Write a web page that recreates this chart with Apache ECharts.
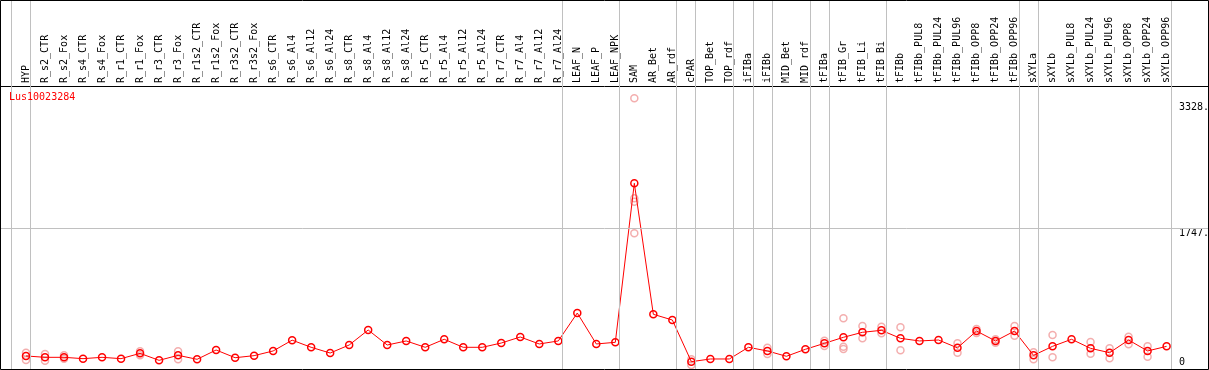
<!DOCTYPE html>
<html><head><meta charset="utf-8">
<script src="https://cdn.jsdelivr.net/npm/echarts@6/dist/echarts.min.js"></script>
<style>html,body{margin:0;padding:0;background:#fff}#c{width:1209px;height:370px}</style>
</head><body><div id="c"></div>
<script>
const chartTitle = 'Lus10023284';
const categories = ['HYP','R_s2_CTR','R_s2_Fox','R_s4_CTR','R_s4_Fox','R_r1_CTR','R_r1_Fox','R_r3_CTR','R_r3_Fox',
  'R_r1s2_CTR','R_r1s2_Fox','R_r3s2_CTR','R_r3s2_Fox','R_s6_CTR','R_s6_Al4','R_s6_Al12','R_s6_Al24',
  'R_s8_CTR','R_s8_Al4','R_s8_Al12','R_s8_Al24','R_r5_CTR','R_r5_Al4','R_r5_Al12','R_r5_Al24',
  'R_r7_CTR','R_r7_Al4','R_r7_Al12','R_r7_Al24','LEAF_N','LEAF_P','LEAF_NPK','SAM','AR_Bet','AR_rdf',
  'cPAR','TOP_Bet','TOP_rdf','iFIBa','iFIBb','MID_Bet','MID_rdf','tFIBa','tFIB_Gr','tFIB_Li','tFIB_Bi',
  'tFIBb','tFIBb_PUL8','tFIBb_PUL24','tFIBb_PUL96','tFIBb_OPP8','tFIBb_OPP24','tFIBb_OPP96',
  'sXYLa','sXYLb','sXYLb_PUL8','sXYLb_PUL24','sXYLb_PUL96','sXYLb_OPP8','sXYLb_OPP24','sXYLb_OPP96'];
const means = [139,122,122,105,122,105,172,84,147,97,214,117,143,202,338,248,176,
  277,466,277,328,248,349,248,248,302,378,290,328,680,290,311,2314,664,592,
  67,101,101,248,202,135,223,298,374,437,462,361,328,340,241,453,328,453,
  147,260,349,235,180,340,202,260];
// replicate points: [category index, value]
const replicates = [[0,180],[0,88],[1,164],[1,79],[2,147],[2,105],[6,198],[6,147],[8,198],[8,97],
  [32,3385],[32,2125],[32,2083],[32,1684],[35,97],[35,25],[39,243],[39,164],[42,332],[42,265],
  [43,613],[43,256],[43,227],[44,516],[44,361],[45,508],[45,424],[46,500],[46,210],
  [49,298],[49,180],[50,478],[50,428],[51,305],[51,350],[52,516],[52,395],[53,185],[53,97],
  [54,403],[54,122],[56,315],[56,168],[57,235],[57,109],[58,382],[58,286],[59,260],[59,130]];
const yTickValues = [0, 1747, 3328];
const gridLineValues = [1747];
const groupEnds = [-1, 0, 28, 31, 34, 35, 37, 38, 39, 41, 42, 45, 52, 53, 60];

const FONT = 'DejaVu Sans Mono';
const SEP_OFFSET = 0.23;
const chart = echarts.init(document.getElementById('c'), null, {renderer: 'canvas'});
chart.setOption({
  animation: false,
  backgroundColor: '#fff',
  title: {text: chartTitle, left: 9, top: 92, padding: 0,
    textStyle: {color: '#ff0000', fontFamily: FONT, fontSize: 10, fontWeight: 'normal'}},
  grid: {left: 0, right: 0, top: 0, bottom: 0, containLabel: false, outerBoundsMode: 'none'},
  xAxis: {
    type: 'value', position: 'top', offset: -86, min: -1.3677, max: 62.23,
    axisLine: {show: true, onZero: false, lineStyle: {color: '#000', width: 1}},
    axisTick: {show: false}, splitLine: {show: false},
    axisLabel: {customValues: categories.map((_, i) => i), formatter: v => categories[v],
      rotate: -90, margin: 3, fontFamily: FONT, fontSize: 10, color: '#000', hideOverlap: false}
  },
  yAxis: {
    type: 'value', position: 'right', min: -37.8, max: 4623,
    axisLine: {show: false}, axisTick: {show: false}, splitLine: {show: false},
    axisLabel: {inside: true, customValues: yTickValues, align: 'left', margin: 30,
      formatter: v => v === 0 ? '0\n' : '\n' + v + '.', lineHeight: 10,
      fontFamily: FONT, fontSize: 10, color: '#000'}
  },
  graphic: [{type: 'rect', shape: {x: 0.5, y: 0.5, width: 1208, height: 369},
    style: {fill: 'none', stroke: '#000', lineWidth: 1}, z: 100, silent: true}],
  series: [
    {
      type: 'scatter', z: 2, silent: true,
      data: replicates,
      symbol: 'circle', symbolSize: 7,
      itemStyle: {color: 'rgba(0,0,0,0)', borderColor: '#f09a9a', borderWidth: 1.5},
      markLine: {
        silent: true, symbol: ['none', 'none'], label: {show: false},
        lineStyle: {color: '#c0c0c0', width: 1, type: 'solid'},
        emphasis: {disabled: true},
        data: groupEnds.map(g => ({xAxis: g + SEP_OFFSET})).concat(gridLineValues.map(v => ({yAxis: v})))
      }
    },
    {
      type: 'line', z: 3, silent: true,
      data: means.map((v, i) => [i, v]),
      symbol: 'circle', symbolSize: 7, showSymbol: true, showAllSymbol: true,
      lineStyle: {color: '#ff0000', width: 1},
      itemStyle: {color: 'rgba(0,0,0,0)', borderColor: '#ff0000', borderWidth: 1.5}
    }
  ]
});
</script></body></html>
